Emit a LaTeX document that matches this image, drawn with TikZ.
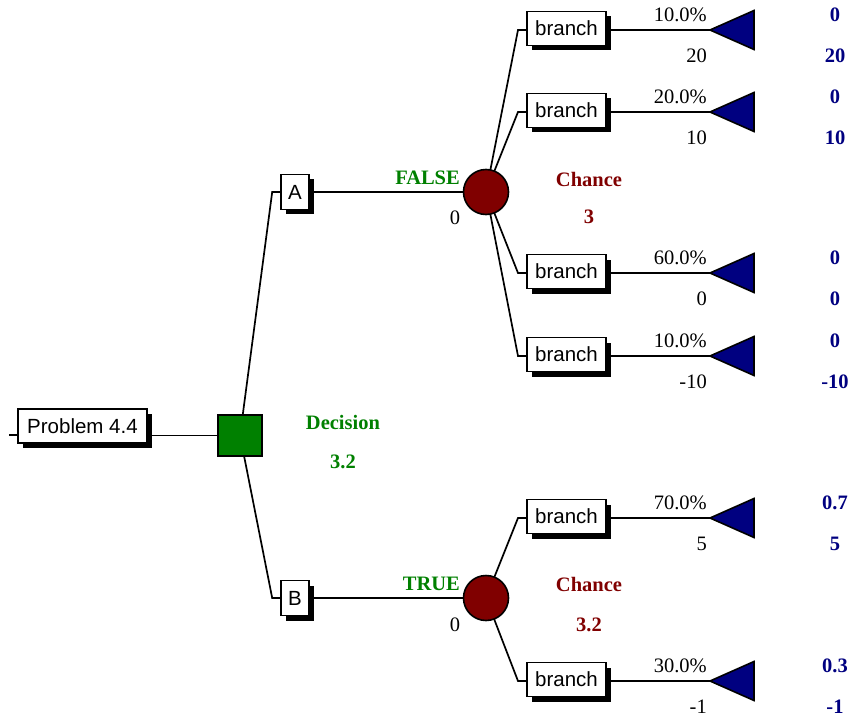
\documentclass[tikz,border=0pt]{standalone}
\usepackage{fontspec}
\setmainfont{Liberation Serif}
\setsansfont{Liberation Sans}
\usetikzlibrary{shadows,backgrounds}
\definecolor{decgreen}{RGB}{0,128,0}
\definecolor{chred}{RGB}{128,0,0}
\definecolor{termblue}{RGB}{0,0,128}
\newcommand\fsz{\fontsize{20.5}{24}\selectfont}
\begin{document}
\begin{tikzpicture}[x=1pt,y=-1pt,
  edge/.style={draw=black,line width=1.7pt},
  boxnode/.style={draw=black,line width=1.6pt,fill=white,rectangle,inner sep=0pt,
    font=\sffamily\fsz,general shadow={fill=black,shadow xshift=5pt,shadow yshift=-5pt}},
  branchbox/.style={boxnode,minimum width=79pt,minimum height=34pt},
  optbox/.style={boxnode,minimum width=28pt,minimum height=35pt},
  chancenode/.style={circle,draw=black,line width=1.6pt,fill=chred,minimum size=45pt,inner sep=0pt},
  decnode/.style={rectangle,draw=black,line width=1.6pt,fill=decgreen,minimum width=44pt,minimum height=41pt,inner sep=0pt},
  tri/.style={draw=black,line width=1.6pt,fill=termblue,line join=miter},
  lbl/.style={font=\fsz,inner sep=0pt,text=black},
  declbl/.style={font=\bfseries\fsz,inner sep=0pt,text=decgreen},
  chlbl/.style={font=\bfseries\fsz,inner sep=0pt,text=chred},
  termlbl/.style={font=\bfseries\fsz,inner sep=0pt,text=termblue},
]
\useasboundingbox (0,0) rectangle (853,719);

% decision and chance nodes
\node[boxnode,minimum width=129pt,minimum height=34pt] (prob) at (82.5,426) {Problem 4.4};
\coordinate (stub) at (9,435);
\node[decnode] (dec) at (240,435.5) {};
\node[optbox] (A) at (295,192) {A};
\node[optbox] (B) at (295,598) {B};
\node[chancenode] (c1) at (486,192) {};
\node[chancenode] (c2) at (486,598) {};

% branch boxes
\foreach \i/\y in {1/30,2/112,3/273,4/356,5/518,6/681}{
  \node[branchbox] (b\i) at (566.5,\y-1.5) {branch};
  \coordinate (j\i) at (518,\y);
  \coordinate (t\i) at (710,\y);
}

% connectors
\begin{scope}[on background layer]
  \draw[edge] (stub) -- (stub -| prob.west);
  \draw[edge] (dec.center) -- (dec.center -| prob.east);
  \draw[edge] (dec.center) -- ([xshift=-8pt]A.west) -- (A.west);
  \draw[edge] (dec.center) -- ([xshift=-8pt]B.west) -- (B.west);
  \draw[edge] (A.east) -- (c1.center);
  \draw[edge] (B.east) -- (c2.center);
  \foreach \i in {1,2,3,4}{
    \draw[edge] (c1.center) -- (j\i) -- (j\i -| b\i.west);
    \draw[edge] (t\i -| b\i.east) -- (t\i);
  }
  \foreach \i in {5,6}{
    \draw[edge] (c2.center) -- (j\i) -- (j\i -| b\i.west);
    \draw[edge] (t\i -| b\i.east) -- (t\i);
  }
\end{scope}

% terminal triangles
\foreach \i in {1,...,6}{
  \draw[tri] (t\i) -- ++(44,-19.5) -- ++(0,39) -- cycle;
}

% labels
\node[declbl] (dl1) at (343,422) {Decision};
\node[declbl] (dl2) at (343,462) {3.2};
\node[declbl,anchor=east] (fl) at (460,178) {FALSE};
\node[lbl] (fz) at (455,218) {0};
\node[declbl,anchor=east] (tl) at (460,584) {TRUE};
\node[lbl] (tz) at (455,625) {0};
\node[chlbl] (ch1) at (589,179) {Chance};
\node[chlbl] (cv1) at (589,217) {3};
\node[chlbl] (ch2) at (589,584) {Chance};
\node[chlbl] (cv2) at (589,625) {3.2};

\foreach \i/\y/\p/\v/\ta/\tb in {1/30/10.0\%/20/0/20, 2/112/20.0\%/10/0/10, 3/273/60.0\%/0/0/0,
  4/356/10.0\%/-10/0/-10, 5/518/70.0\%/5/0.7/5, 6/681/30.0\%/-1/0.3/-1}{
  \node[lbl,anchor=east] (p\i) at (707,\y-15) {\p};
  \node[lbl,anchor=east] (v\i) at (707,\y+26) {\v};
  \node[termlbl] (ta\i) at (835,\y-15) {\ta};
  \node[termlbl] (tb\i) at (835,\y+26) {\tb};
}
\end{tikzpicture}
\end{document}
